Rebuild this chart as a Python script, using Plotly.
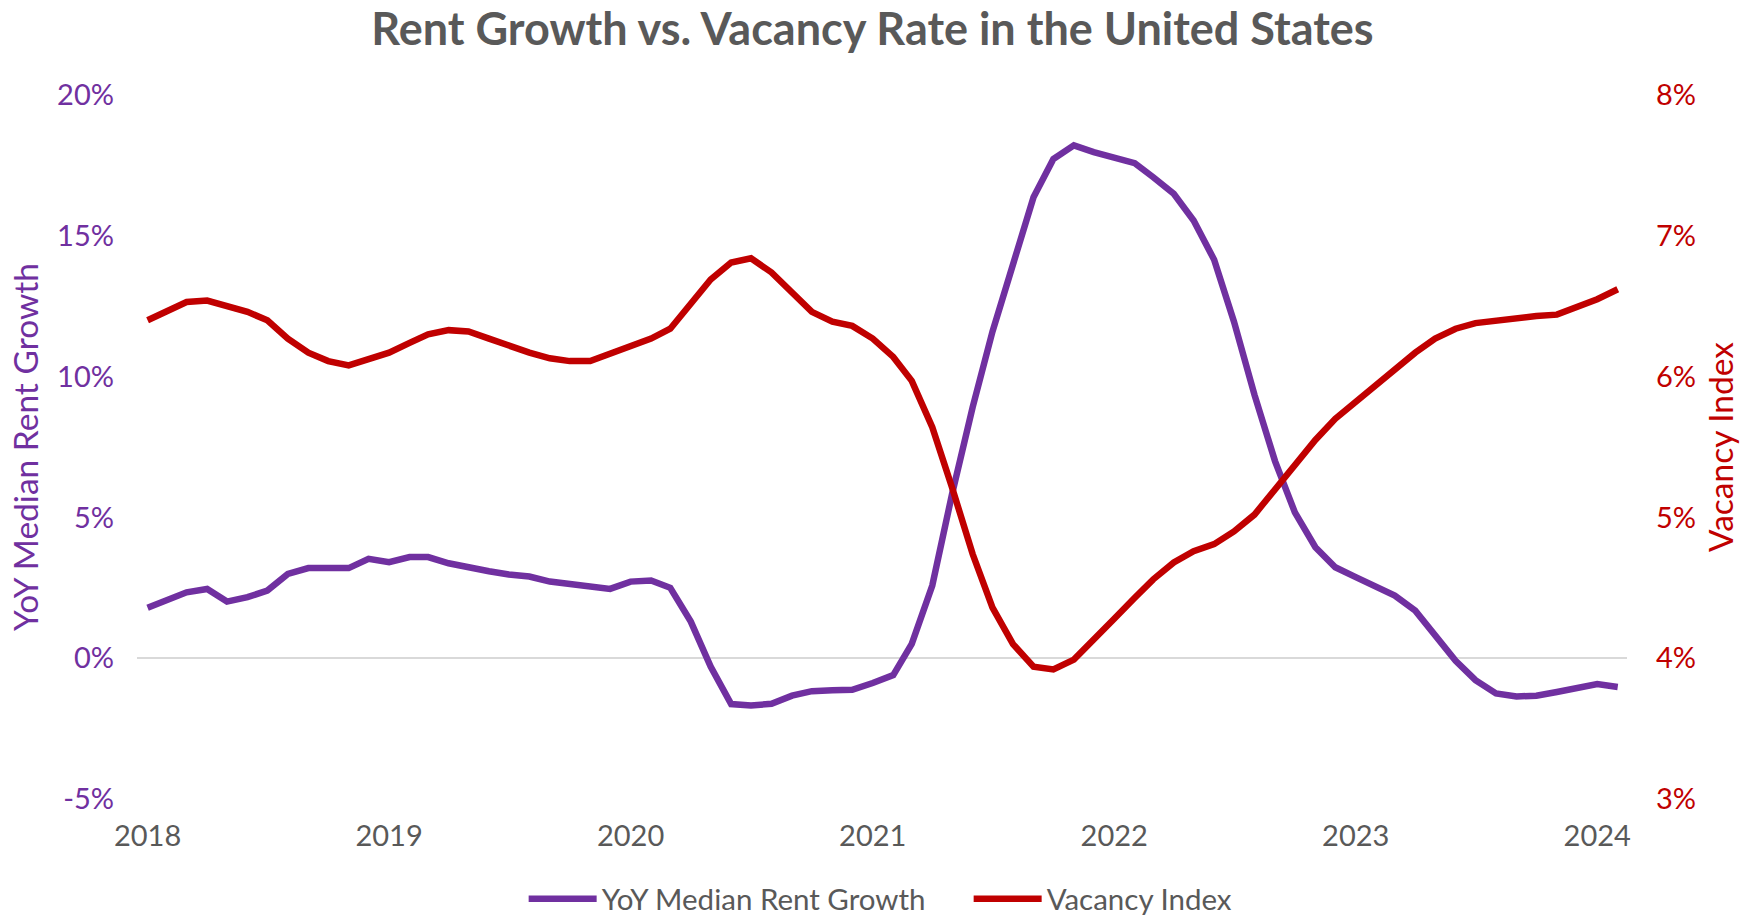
import pandas as pd
import plotly.graph_objects as go

# Monthly observations, Jan 2018 - Feb 2024
months = pd.date_range("2018-01-01", periods=74, freq="MS")

rent_growth = [
    1.79, 2.07, 2.34, 2.46, 2.01, 2.17, 2.40, 2.99, 3.20, 3.20, 3.20, 3.53,
    3.41, 3.59, 3.59, 3.37, 3.26, 3.09, 2.97, 2.90, 2.72, 2.62, 2.56, 2.46,
    2.72, 2.76, 2.50, 1.30, -0.30, -1.63, -1.68, -1.62, -1.33, -1.17, -1.14, -1.12,
    -0.88, -0.60, 0.51, 2.58, 5.84, 8.91, 11.6, 14.0, 16.37, 17.73, 18.21, 17.97,
    17.79, 17.58, 17.08, 16.49, 15.54, 14.15, 11.95, 9.35, 7.0, 5.18, 3.94, 3.23,
    2.88, 2.52, 2.22, 1.69, 0.85, -0.09, -0.78, -1.25, -1.36, -1.33, -1.20, -1.05,
    -0.92, -1.02,
]

vacancy = [
    6.40, 6.47, 6.53, 6.54, 6.50, 6.46, 6.40, 6.27, 6.17, 6.11, 6.08, 6.13,
    6.17, 6.24, 6.30, 6.33, 6.32, 6.27, 6.22, 6.17, 6.13, 6.11, 6.11, 6.16,
    6.21, 6.27, 6.34, 6.52, 6.69, 6.81, 6.84, 6.74, 6.59, 6.46, 6.39, 6.36,
    6.27, 6.14, 5.97, 5.64, 5.21, 4.74, 4.36, 4.10, 3.94, 3.92, 3.99, 4.14,
    4.28, 4.43, 4.56, 4.68, 4.76, 4.81, 4.90, 5.02, 5.20, 5.38, 5.55, 5.70,
    5.82, 5.94, 6.06, 6.17, 6.27, 6.34, 6.38, 6.40, 6.41, 6.43, 6.44, 6.49,
    6.55, 6.62,
]

left_ticks = [-5, 0, 5, 10, 15, 20]
left_tick_text = ["-5%", "0%", "5%", "10%", "15%", "20%"]
right_ticks = [3, 4, 5, 6, 7, 8]
right_tick_text = ["3%", "4%", "5%", "6%", "7%", "8%"]
year_ticks = pd.date_range("2018-01-01", periods=7, freq="YS")

PURPLE = "#7030A0"
RED = "#C00000"
GREY = "#595959"
FONT = "Lato"

fig = go.Figure()
fig.add_trace(go.Scatter(
    x=months, y=rent_growth, name="YoY Median Rent Growth", mode="lines",
    line=dict(color=PURPLE, width=6.5), yaxis="y",
))
fig.add_trace(go.Scatter(
    x=months, y=vacancy, name="Vacancy Index", mode="lines",
    line=dict(color=RED, width=6.5), yaxis="y2",
))

fig.update_layout(
    width=1745, height=916,
    margin=dict(l=137, r=118, t=95, b=117, autoexpand=False),
    paper_bgcolor="white", plot_bgcolor="white",
    font=dict(family=FONT, color=GREY),
    title=dict(
        text="<b>Rent Growth vs. Vacancy Rate in the United States</b>",
        x=0.5, xanchor="center", y=0.9683, yanchor="middle", yref="container",
        font=dict(family=FONT, size=45, color=GREY),
    ),
    xaxis=dict(
        type="date",
        range=["2017-12-16", "2024-02-15"],
        tickvals=year_ticks, tickformat="%Y",
        showgrid=False, zeroline=False, showline=False, automargin=False,
        ticks="", ticklabelstandoff=17,
        tickfont=dict(family=FONT, size=29, color=GREY),
    ),
    yaxis=dict(
        range=[-5, 20], tickvals=left_ticks, ticktext=left_tick_text,
        showgrid=False, zeroline=True, zerolinecolor="#D9D9D9", zerolinewidth=2,
        showline=False, automargin=False, ticks="", ticklabelstandoff=22,
        tickfont=dict(family=FONT, size=29, color=PURPLE),
        title=dict(text="YoY Median Rent Growth", standoff=8,
                   font=dict(family=FONT, size=33.5, color=PURPLE)),
    ),
    yaxis2=dict(
        range=[3, 8], tickvals=right_ticks, ticktext=right_tick_text,
        overlaying="y", side="right",
        showgrid=False, zeroline=False, showline=False, automargin=False,
        ticks="", ticklabelstandoff=28,
        tickfont=dict(family=FONT, size=29, color=RED),
        title=dict(text="Vacancy Index", standoff=14,
                   font=dict(family=FONT, size=33.5, color=RED)),
    ),
    legend=dict(
        orientation="h", x=0.2595, xanchor="left", y=-0.142, yanchor="middle",
        font=dict(family=FONT, size=29.5, color=GREY),
        bgcolor="rgba(0,0,0,0)", itemwidth=68,
        entrywidth=362, entrywidthmode="pixels",
    ),
    showlegend=True,
)

fig.write_html(
    "out.html",
    config={"displayModeBar": False},
    post_script="document.body.style.margin='0';",
)
